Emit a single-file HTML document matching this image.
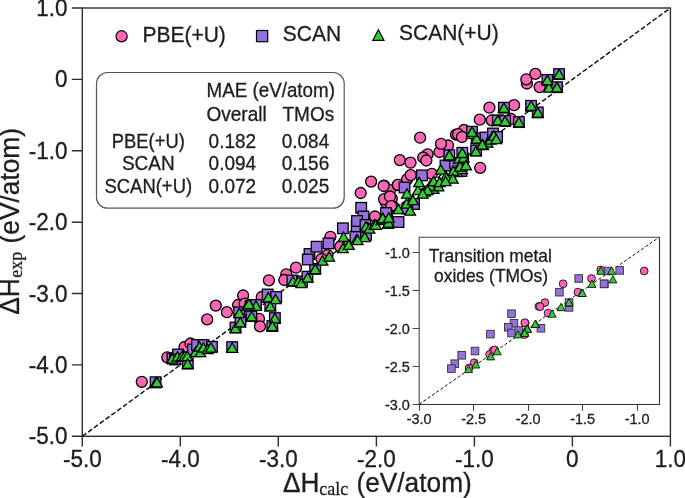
<!DOCTYPE html><html><head><meta charset="utf-8"><style>html,body{margin:0;padding:0;background:#fff;}svg{display:block;will-change:transform;}text{font-family:"Liberation Sans",sans-serif;fill:#1e1e1e;stroke:#1e1e1e;stroke-width:0.3px;}</style></head><body>
<svg width="685" height="498" viewBox="0 0 685 498">
<rect x="82.3" y="8.0" width="588.1" height="428.3" fill="none" stroke="#2e2e2e" stroke-width="1.4"/>
<path d="M82.3 436.3V446.6M82.3 436.3H71.8M180.3 436.3V446.6M82.3 364.9H71.8M278.3 436.3V446.6M82.3 293.5H71.8M376.4 436.3V446.6M82.3 222.2H71.8M474.4 436.3V446.6M82.3 150.8H71.8M572.4 436.3V446.6M82.3 79.4H71.8M670.4 436.3V446.6M82.3 8.0H71.8" stroke="#2e2e2e" stroke-width="1.4" fill="none"/>
<line x1="82.3" y1="436.3" x2="670.4" y2="8.0" stroke="#111" stroke-width="1.45" stroke-dasharray="4.9,2.3"/>
<text transform="translate(82.30,467.00) scale(1,1.08)" font-size="22.5" text-anchor="middle">-5.0</text>
<text transform="translate(67.50,444.40) scale(1,1.08)" font-size="22.5" text-anchor="end">-5.0</text>
<text transform="translate(180.32,467.00) scale(1,1.08)" font-size="22.5" text-anchor="middle">-4.0</text>
<text transform="translate(67.50,373.02) scale(1,1.08)" font-size="22.5" text-anchor="end">-4.0</text>
<text transform="translate(278.33,467.00) scale(1,1.08)" font-size="22.5" text-anchor="middle">-3.0</text>
<text transform="translate(67.50,301.63) scale(1,1.08)" font-size="22.5" text-anchor="end">-3.0</text>
<text transform="translate(376.35,467.00) scale(1,1.08)" font-size="22.5" text-anchor="middle">-2.0</text>
<text transform="translate(67.50,230.25) scale(1,1.08)" font-size="22.5" text-anchor="end">-2.0</text>
<text transform="translate(474.37,467.00) scale(1,1.08)" font-size="22.5" text-anchor="middle">-1.0</text>
<text transform="translate(67.50,158.87) scale(1,1.08)" font-size="22.5" text-anchor="end">-1.0</text>
<text transform="translate(572.38,467.00) scale(1,1.08)" font-size="22.5" text-anchor="middle">0</text>
<text transform="translate(67.50,87.48) scale(1,1.08)" font-size="22.5" text-anchor="end">0</text>
<text transform="translate(670.40,467.00) scale(1,1.08)" font-size="22.5" text-anchor="middle">1.0</text>
<text transform="translate(67.50,16.10) scale(1,1.08)" font-size="22.5" text-anchor="end">1.0</text>
<text transform="translate(283.00,492.40) scale(1,1.03)" font-size="26.3">ΔH</text><text transform="translate(319.20,495.40) scale(1,1.0)" font-size="18" style="font-family:&quot;Liberation Serif&quot;,serif">calc</text><text transform="translate(356.40,492.40) scale(1,1.03)" font-size="26.3">(eV/atom)</text>
<g transform="translate(19.3,314.8) rotate(-90)"><text transform="translate(0.00,0.00) scale(1,1.03)" font-size="26.3">ΔH</text><text transform="translate(37.10,3.00) scale(1,1.0)" font-size="18" style="font-family:&quot;Liberation Serif&quot;,serif">exp</text><text transform="translate(71.40,0.00) scale(1,1.03)" font-size="26.3">(eV/atom)</text></g>
<g fill="#fa66b4" stroke="#000" stroke-width="1.3"><circle cx="141.8" cy="381.8" r="5.5"/><circle cx="167.3" cy="357.3" r="5.5"/><circle cx="176.0" cy="356.3" r="5.5"/><circle cx="184.5" cy="347.0" r="5.5"/><circle cx="190.5" cy="343.5" r="5.5"/><circle cx="207.2" cy="319.4" r="5.5"/><circle cx="215.8" cy="305.6" r="5.5"/><circle cx="226.9" cy="312.2" r="5.5"/><circle cx="243.1" cy="295.5" r="5.5"/><circle cx="238.1" cy="305.0" r="5.5"/><circle cx="244.7" cy="303.7" r="5.5"/><circle cx="259.0" cy="318.8" r="5.5"/><circle cx="260.0" cy="326.4" r="5.5"/><circle cx="261.8" cy="297.0" r="5.5"/><circle cx="268.9" cy="280.3" r="5.5"/><circle cx="286.3" cy="274.3" r="5.5"/><circle cx="284.3" cy="280.0" r="5.5"/><circle cx="296.0" cy="267.7" r="5.5"/><circle cx="327.5" cy="255.0" r="5.5"/><circle cx="321.5" cy="259.0" r="5.5"/><circle cx="330.4" cy="236.8" r="5.5"/><circle cx="340.3" cy="246.7" r="5.5"/><circle cx="360.7" cy="193.0" r="5.5"/><circle cx="371.1" cy="181.6" r="5.5"/><circle cx="375.0" cy="216.5" r="5.5"/><circle cx="384.1" cy="185.6" r="5.5"/><circle cx="385.7" cy="202.2" r="5.5"/><circle cx="391.8" cy="198.6" r="5.5"/><circle cx="393.4" cy="206.8" r="5.5"/><circle cx="390.2" cy="190.1" r="5.5"/><circle cx="397.7" cy="185.1" r="5.5"/><circle cx="384.1" cy="199.2" r="5.5"/><circle cx="390.0" cy="196.5" r="5.5"/><circle cx="391.2" cy="206.1" r="5.5"/><circle cx="383.6" cy="186.0" r="5.5"/><circle cx="399.8" cy="160.1" r="5.5"/><circle cx="410.5" cy="162.7" r="5.5"/><circle cx="427.6" cy="154.3" r="5.5"/><circle cx="423.2" cy="157.5" r="5.5"/><circle cx="426.3" cy="160.5" r="5.5"/><circle cx="439.5" cy="152.0" r="5.5"/><circle cx="448.0" cy="145.5" r="5.5"/><circle cx="441.0" cy="143.8" r="5.5"/><circle cx="420.1" cy="137.7" r="5.5"/><circle cx="398.0" cy="184.8" r="5.5"/><circle cx="407.1" cy="179.3" r="5.5"/><circle cx="410.7" cy="175.1" r="5.5"/><circle cx="431.8" cy="173.9" r="5.5"/><circle cx="464.0" cy="130.0" r="5.5"/><circle cx="456.0" cy="134.6" r="5.5"/><circle cx="458.1" cy="134.2" r="5.5"/><circle cx="462.0" cy="137.0" r="5.5"/><circle cx="480.2" cy="167.8" r="5.5"/><circle cx="479.8" cy="119.7" r="5.5"/><circle cx="489.4" cy="107.7" r="5.5"/><circle cx="491.8" cy="120.3" r="5.5"/><circle cx="511.0" cy="119.0" r="5.5"/><circle cx="514.1" cy="105.2" r="5.5"/><circle cx="526.9" cy="83.5" r="5.5"/><circle cx="526.3" cy="79.3" r="5.5"/><circle cx="535.4" cy="73.9" r="5.5"/><circle cx="539.6" cy="87.1" r="5.5"/></g>
<g fill="#9471dc" stroke="#000" stroke-width="1.3"><rect x="150.3" y="376.9" width="10.6" height="10.6"/><rect x="167.2" y="353.2" width="10.6" height="10.6"/><rect x="172.7" y="349.2" width="10.6" height="10.6"/><rect x="169.7" y="354.2" width="10.6" height="10.6"/><rect x="182.5" y="358.2" width="10.6" height="10.6"/><rect x="187.7" y="344.2" width="10.6" height="10.6"/><rect x="191.7" y="339.7" width="10.6" height="10.6"/><rect x="198.2" y="339.7" width="10.6" height="10.6"/><rect x="206.7" y="341.5" width="10.6" height="10.6"/><rect x="226.9" y="341.8" width="10.6" height="10.6"/><rect x="230.2" y="322.2" width="10.6" height="10.6"/><rect x="233.9" y="307.0" width="10.6" height="10.6"/><rect x="235.2" y="314.7" width="10.6" height="10.6"/><rect x="245.3" y="300.5" width="10.6" height="10.6"/><rect x="246.1" y="310.5" width="10.6" height="10.6"/><rect x="250.7" y="299.7" width="10.6" height="10.6"/><rect x="262.4" y="289.2" width="10.6" height="10.6"/><rect x="270.9" y="291.7" width="10.6" height="10.6"/><rect x="265.0" y="299.7" width="10.6" height="10.6"/><rect x="269.6" y="312.8" width="10.6" height="10.6"/><rect x="267.0" y="320.7" width="10.6" height="10.6"/><rect x="287.1" y="275.2" width="10.6" height="10.6"/><rect x="296.7" y="276.2" width="10.6" height="10.6"/><rect x="302.1" y="271.4" width="10.6" height="10.6"/><rect x="309.9" y="263.6" width="10.6" height="10.6"/><rect x="304.2" y="248.7" width="10.6" height="10.6"/><rect x="302.5" y="254.2" width="10.6" height="10.6"/><rect x="311.3" y="241.4" width="10.6" height="10.6"/><rect x="323.2" y="238.1" width="10.6" height="10.6"/><rect x="337.6" y="223.0" width="10.6" height="10.6"/><rect x="350.1" y="231.5" width="10.6" height="10.6"/><rect x="351.4" y="221.0" width="10.6" height="10.6"/><rect x="355.9" y="202.5" width="10.6" height="10.6"/><rect x="358.2" y="211.2" width="10.6" height="10.6"/><rect x="351.7" y="215.7" width="10.6" height="10.6"/><rect x="360.2" y="219.7" width="10.6" height="10.6"/><rect x="360.7" y="229.7" width="10.6" height="10.6"/><rect x="381.9" y="210.1" width="10.6" height="10.6"/><rect x="380.7" y="207.7" width="10.6" height="10.6"/><rect x="408.7" y="198.7" width="10.6" height="10.6"/><rect x="402.0" y="203.2" width="10.6" height="10.6"/><rect x="393.2" y="216.7" width="10.6" height="10.6"/><rect x="399.2" y="182.2" width="10.6" height="10.6"/><rect x="416.6" y="170.1" width="10.6" height="10.6"/><rect x="440.2" y="160.2" width="10.6" height="10.6"/><rect x="449.7" y="157.7" width="10.6" height="10.6"/><rect x="457.7" y="153.2" width="10.6" height="10.6"/><rect x="444.0" y="149.9" width="10.6" height="10.6"/><rect x="456.1" y="165.7" width="10.6" height="10.6"/><rect x="457.0" y="147.5" width="10.6" height="10.6"/><rect x="466.7" y="126.4" width="10.6" height="10.6"/><rect x="471.4" y="133.1" width="10.6" height="10.6"/><rect x="480.2" y="132.2" width="10.6" height="10.6"/><rect x="487.7" y="128.2" width="10.6" height="10.6"/><rect x="491.7" y="131.7" width="10.6" height="10.6"/><rect x="470.8" y="145.1" width="10.6" height="10.6"/><rect x="492.5" y="115.0" width="10.6" height="10.6"/><rect x="499.8" y="115.6" width="10.6" height="10.6"/><rect x="513.6" y="116.8" width="10.6" height="10.6"/><rect x="498.6" y="102.4" width="10.6" height="10.6"/><rect x="525.8" y="100.5" width="10.6" height="10.6"/><rect x="532.5" y="107.1" width="10.6" height="10.6"/><rect x="542.1" y="74.6" width="10.6" height="10.6"/><rect x="553.8" y="68.8" width="10.6" height="10.6"/><rect x="551.7" y="81.9" width="10.6" height="10.6"/></g>
<g fill="#34cc34" stroke="#000" stroke-width="1.3" stroke-linejoin="miter"><path d="M155.6 378.2L161.0 387.7L150.2 387.7Z"/><path d="M157.0 377.4L162.4 386.9L151.6 386.9Z"/><path d="M172.2 353.7L177.6 363.2L166.8 363.2Z"/><path d="M177.5 351.7L182.9 361.2L172.1 361.2Z"/><path d="M182.0 351.2L187.4 360.7L176.6 360.7Z"/><path d="M184.5 351.2L189.9 360.7L179.1 360.7Z"/><path d="M187.3 351.2L192.7 360.7L181.9 360.7Z"/><path d="M187.6 359.0L193.0 368.5L182.2 368.5Z"/><path d="M195.5 347.2L200.9 356.7L190.1 356.7Z"/><path d="M199.5 341.7L204.9 351.2L194.1 351.2Z"/><path d="M200.3 347.2L205.7 356.7L194.9 356.7Z"/><path d="M203.5 342.7L208.9 352.2L198.1 352.2Z"/><path d="M207.8 344.2L213.2 353.7L202.4 353.7Z"/><path d="M211.0 342.7L216.4 352.2L205.6 352.2Z"/><path d="M232.2 342.8L237.6 352.3L226.8 352.3Z"/><path d="M235.5 323.2L240.9 332.7L230.1 332.7Z"/><path d="M239.3 308.2L244.7 317.7L233.9 317.7Z"/><path d="M240.3 317.5L245.7 327.0L234.9 327.0Z"/><path d="M250.8 301.7L256.2 311.2L245.4 311.2Z"/><path d="M251.7 311.5L257.1 321.0L246.3 321.0Z"/><path d="M256.0 300.8L261.4 310.3L250.6 310.3Z"/><path d="M268.3 292.5L273.7 302.0L262.9 302.0Z"/><path d="M275.5 294.2L280.9 303.7L270.1 303.7Z"/><path d="M270.3 301.5L275.7 311.0L264.9 311.0Z"/><path d="M247.0 300.7L252.4 310.2L241.6 310.2Z"/><path d="M249.0 299.2L254.4 308.7L243.6 308.7Z"/><path d="M274.9 313.3L280.3 322.8L269.5 322.8Z"/><path d="M272.3 321.2L277.7 330.7L266.9 330.7Z"/><path d="M292.9 276.5L298.3 286.0L287.5 286.0Z"/><path d="M298.5 276.5L303.9 286.0L293.1 286.0Z"/><path d="M301.3 278.2L306.7 287.7L295.9 287.7Z"/><path d="M307.6 272.7L313.0 282.2L302.2 282.2Z"/><path d="M315.2 264.1L320.6 273.6L309.8 273.6Z"/><path d="M322.5 255.7L327.9 265.2L317.1 265.2Z"/><path d="M329.1 251.7L334.5 261.2L323.7 261.2Z"/><path d="M343.6 232.0L349.0 241.5L338.2 241.5Z"/><path d="M342.9 243.2L348.3 252.7L337.5 252.7Z"/><path d="M348.8 239.9L354.2 249.4L343.4 249.4Z"/><path d="M356.7 234.7L362.1 244.2L351.3 244.2Z"/><path d="M364.7 232.1L370.1 241.6L359.3 241.6Z"/><path d="M357.6 235.2L363.0 244.7L352.2 244.7Z"/><path d="M367.8 222.9L373.2 232.4L362.4 232.4Z"/><path d="M366.0 221.7L371.4 231.2L360.6 231.2Z"/><path d="M369.5 223.7L374.9 233.2L364.1 233.2Z"/><path d="M374.4 219.6L379.8 229.1L369.0 229.1Z"/><path d="M376.0 219.8L381.4 229.3L370.6 229.3Z"/><path d="M381.4 215.2L386.8 224.7L376.0 224.7Z"/><path d="M382.5 213.2L387.9 222.7L377.1 222.7Z"/><path d="M383.1 213.7L388.5 223.2L377.7 223.2Z"/><path d="M388.2 218.8L393.6 228.3L382.8 228.3Z"/><path d="M417.9 185.2L423.3 194.7L412.5 194.7Z"/><path d="M425.0 186.7L430.4 196.2L419.6 196.2Z"/><path d="M433.6 183.8L439.0 193.3L428.2 193.3Z"/><path d="M438.4 181.3L443.8 190.8L433.0 190.8Z"/><path d="M430.0 180.7L435.4 190.2L424.6 190.2Z"/><path d="M446.0 171.2L451.4 180.7L440.6 180.7Z"/><path d="M457.0 167.2L462.4 176.7L451.6 176.7Z"/><path d="M462.0 164.2L467.4 173.7L456.6 173.7Z"/><path d="M449.2 151.2L454.6 160.7L443.8 160.7Z"/><path d="M458.9 153.7L464.3 163.2L453.5 163.2Z"/><path d="M463.7 152.7L469.1 162.2L458.3 162.2Z"/><path d="M440.8 164.7L446.2 174.2L435.4 174.2Z"/><path d="M453.4 165.9L458.8 175.4L448.0 175.4Z"/><path d="M460.0 161.6L465.4 171.1L454.6 171.1Z"/><path d="M466.0 160.4L471.4 169.9L460.6 169.9Z"/><path d="M419.1 177.2L424.5 186.7L413.7 186.7Z"/><path d="M433.6 176.2L439.0 185.7L428.2 185.7Z"/><path d="M452.8 173.7L458.2 183.2L447.4 183.2Z"/><path d="M427.5 185.2L432.9 194.7L422.1 194.7Z"/><path d="M439.6 177.2L445.0 186.7L434.2 186.7Z"/><path d="M445.6 176.2L451.0 185.7L440.2 185.7Z"/><path d="M422.7 188.7L428.1 198.2L417.3 198.2Z"/><path d="M407.0 188.7L412.4 198.2L401.6 198.2Z"/><path d="M449.3 150.4L454.7 159.9L443.9 159.9Z"/><path d="M462.3 148.0L467.7 157.5L456.9 157.5Z"/><path d="M398.5 204.2L403.9 213.7L393.1 213.7Z"/><path d="M406.5 198.7L411.9 208.2L401.1 208.2Z"/><path d="M413.0 195.2L418.4 204.7L407.6 204.7Z"/><path d="M410.1 205.7L415.5 215.2L404.7 215.2Z"/><path d="M388.4 217.7L393.8 227.2L383.0 227.2Z"/><path d="M382.8 213.2L388.2 222.7L377.4 222.7Z"/><path d="M388.8 212.7L394.2 222.2L383.4 222.2Z"/><path d="M471.7 128.8L477.1 138.3L466.3 138.3Z"/><path d="M476.5 133.6L481.9 143.1L471.1 143.1Z"/><path d="M475.9 146.3L481.3 155.8L470.5 155.8Z"/><path d="M472.0 126.9L477.4 136.4L466.6 136.4Z"/><path d="M487.5 137.7L492.9 147.2L482.1 147.2Z"/><path d="M490.5 134.7L495.9 144.2L485.1 144.2Z"/><path d="M493.8 130.7L499.2 140.2L488.4 140.2Z"/><path d="M496.2 134.2L501.6 143.7L490.8 143.7Z"/><path d="M483.2 140.2L488.6 149.7L477.8 149.7Z"/><path d="M482.2 139.6L487.6 149.1L476.8 149.1Z"/><path d="M497.8 115.5L503.2 125.0L492.4 125.0Z"/><path d="M505.1 116.1L510.5 125.6L499.7 125.6Z"/><path d="M518.9 117.3L524.3 126.8L513.5 126.8Z"/><path d="M503.9 102.9L509.3 112.4L498.5 112.4Z"/><path d="M531.1 101.0L536.5 110.5L525.7 110.5Z"/><path d="M537.8 107.6L543.2 117.1L532.4 117.1Z"/><path d="M549.0 82.7L554.4 92.2L543.6 92.2Z"/><path d="M547.4 75.1L552.8 84.6L542.0 84.6Z"/><path d="M559.1 69.3L564.5 78.8L553.7 78.8Z"/><path d="M557.0 82.4L562.4 91.9L551.6 91.9Z"/></g>
<circle cx="121.6" cy="36.3" r="5.6" fill="#fa66b4" stroke="#000" stroke-width="1.2"/>
<rect x="256.5" y="30.5" width="11.2" height="11.2" fill="#9471dc" stroke="#000" stroke-width="1.2"/>
<path d="M378.4 29.8L384 40.3L372.8 40.3Z" fill="#34cc34" stroke="#000" stroke-width="1.2"/>
<text transform="translate(142.40,41.80) scale(1,1.05)" font-size="21">PBE(+U)</text>
<text transform="translate(282.80,41.40) scale(1,1.05)" font-size="21">SCAN</text>
<text transform="translate(399.00,39.90) scale(1,1.05)" font-size="21">SCAN(+U)</text>
<rect x="96.5" y="72.5" width="247.7" height="135.7" rx="11" ry="11" fill="#fff" stroke="#555" stroke-width="1.2"/>
<text transform="translate(206.60,96.90) scale(1,1.055)" font-size="19" textLength="128.3" lengthAdjust="spacingAndGlyphs">MAE (eV/atom)</text>
<text transform="translate(206.50,121.40) scale(1,1.055)" font-size="19">Overall</text>
<text transform="translate(282.50,121.40) scale(1,1.055)" font-size="19">TMOs</text>
<text transform="translate(148.30,148.00) scale(1,1.055)" font-size="19" text-anchor="middle" textLength="72.9" lengthAdjust="spacingAndGlyphs">PBE(+U)</text>
<text transform="translate(208.60,148.00) scale(1,1.055)" font-size="19">0.182</text>
<text transform="translate(281.70,148.00) scale(1,1.055)" font-size="19">0.084</text>
<text transform="translate(148.30,170.40) scale(1,1.055)" font-size="19" text-anchor="middle">SCAN</text>
<text transform="translate(208.60,170.40) scale(1,1.055)" font-size="19">0.094</text>
<text transform="translate(281.70,170.40) scale(1,1.055)" font-size="19">0.156</text>
<text transform="translate(148.30,192.80) scale(1,1.055)" font-size="19" text-anchor="middle" textLength="87.6" lengthAdjust="spacingAndGlyphs">SCAN(+U)</text>
<text transform="translate(208.60,192.80) scale(1,1.055)" font-size="19">0.072</text>
<text transform="translate(281.70,192.80) scale(1,1.055)" font-size="19">0.025</text>
<rect x="419.5" y="237.5" width="240" height="167" fill="#fff"/>
<path d="M419.2 404.5V237.2H659.5" fill="none" stroke="#444" stroke-width="1.1"/>
<path d="M659.5 237.2V404.5H419.2" fill="none" stroke="#333" stroke-width="1.1"/>
<path d="M419.5 404.5V410.8M419.5 404.5H412.59999999999997M473.5 404.5V410.8M419.5 366.5H412.59999999999997M528.5 404.5V410.8M419.5 328.5H412.59999999999997M582.5 404.5V410.8M419.5 290.5H412.59999999999997M637.5 404.5V410.8M419.5 252.5H412.59999999999997" stroke="#444" stroke-width="1.1" fill="none"/>
<line x1="419.2" y1="404.3" x2="659.0" y2="237.4" stroke="#111" stroke-width="1" stroke-dasharray="3.2,2"/>
<text transform="translate(419.20,423.60) scale(1,1.03)" font-size="14.5" text-anchor="middle">-3.0</text>
<text transform="translate(409.90,409.60) scale(1,1.03)" font-size="14.5" text-anchor="end">-3.0</text>
<text transform="translate(473.70,423.60) scale(1,1.03)" font-size="14.5" text-anchor="middle">-2.5</text>
<text transform="translate(409.90,371.67) scale(1,1.03)" font-size="14.5" text-anchor="end">-2.5</text>
<text transform="translate(528.20,423.60) scale(1,1.03)" font-size="14.5" text-anchor="middle">-2.0</text>
<text transform="translate(409.90,333.74) scale(1,1.03)" font-size="14.5" text-anchor="end">-2.0</text>
<text transform="translate(582.70,423.60) scale(1,1.03)" font-size="14.5" text-anchor="middle">-1.5</text>
<text transform="translate(409.90,295.80) scale(1,1.03)" font-size="14.5" text-anchor="end">-1.5</text>
<text transform="translate(637.20,423.60) scale(1,1.03)" font-size="14.5" text-anchor="middle">-1.0</text>
<text transform="translate(409.90,257.87) scale(1,1.03)" font-size="14.5" text-anchor="end">-1.0</text>
<text transform="translate(490.35,261.70) scale(1,1.035)" font-size="17.4" text-anchor="middle">Transition metal</text>
<text transform="translate(491.00,281.50) scale(1,1.035)" font-size="17.4" text-anchor="middle">oxides (TMOs)</text>
<g fill="#fa66b4" stroke="#111" stroke-width="0.9"><circle cx="525.2" cy="323.3" r="3.9"/><circle cx="538.9" cy="306.4" r="3.9"/><circle cx="493.0" cy="350.6" r="3.9"/><circle cx="489.6" cy="354.5" r="3.9"/><circle cx="494.7" cy="349.9" r="3.9"/><circle cx="474.2" cy="362.7" r="3.9"/><circle cx="469.1" cy="368.0" r="3.9"/><circle cx="524.4" cy="334.6" r="3.9"/><circle cx="563.1" cy="283.8" r="3.9"/><circle cx="544.9" cy="302.6" r="3.9"/><circle cx="540.1" cy="306.6" r="3.9"/><circle cx="548.1" cy="313.1" r="3.9"/><circle cx="577.9" cy="292.2" r="3.9"/><circle cx="591.5" cy="278.5" r="3.9"/><circle cx="600.8" cy="269.9" r="3.9"/><circle cx="644.2" cy="271.0" r="3.9"/><circle cx="524.8" cy="322.7" r="3.9"/></g>
<g fill="#9471dc" stroke="#333" stroke-width="0.9"><rect x="507.7" y="309.9" width="7.6" height="7.6"/><rect x="510.2" y="319.5" width="7.6" height="7.6"/><rect x="504.5" y="323.5" width="7.6" height="7.6"/><rect x="507.7" y="329.2" width="7.6" height="7.6"/><rect x="515.0" y="326.7" width="7.6" height="7.6"/><rect x="486.6" y="330.3" width="7.6" height="7.6"/><rect x="471.2" y="347.2" width="7.6" height="7.6"/><rect x="457.9" y="351.5" width="7.6" height="7.6"/><rect x="451.0" y="359.9" width="7.6" height="7.6"/><rect x="447.6" y="364.8" width="7.6" height="7.6"/><rect x="537.1" y="324.5" width="7.6" height="7.6"/><rect x="555.6" y="288.4" width="7.6" height="7.6"/><rect x="565.2" y="303.6" width="7.6" height="7.6"/><rect x="565.2" y="298.8" width="7.6" height="7.6"/><rect x="574.9" y="274.7" width="7.6" height="7.6"/><rect x="600.6" y="280.0" width="7.6" height="7.6"/><rect x="604.2" y="267.2" width="7.6" height="7.6"/><rect x="615.9" y="266.6" width="7.6" height="7.6"/><rect x="600.2" y="280.1" width="7.6" height="7.6"/></g>
<g fill="#34cc34" stroke="#111" stroke-width="0.9"><path d="M497.2 347.4L501.2 354.8L493.2 354.8Z"/><path d="M490.6 352.5L494.6 359.9L486.6 359.9Z"/><path d="M475.8 360.6L479.8 368.0L471.8 368.0Z"/><path d="M468.6 365.2L472.6 372.6L464.6 372.6Z"/><path d="M518.0 330.5L522.0 337.9L514.0 337.9Z"/><path d="M524.4 328.1L528.4 335.5L520.4 335.5Z"/><path d="M527.6 324.8L531.6 332.2L523.6 332.2Z"/><path d="M535.7 320.0L539.7 327.4L531.7 327.4Z"/><path d="M552.2 309.8L556.2 317.2L548.2 317.2Z"/><path d="M561.0 303.3L565.0 310.7L557.0 310.7Z"/><path d="M569.0 298.5L573.0 305.9L565.0 305.9Z"/><path d="M581.9 288.9L585.9 296.3L577.9 296.3Z"/><path d="M592.0 280.0L596.0 287.4L588.0 287.4Z"/><path d="M612.9 275.5L616.9 282.9L608.9 282.9Z"/><path d="M600.8 266.9L604.8 274.3L596.8 274.3Z"/><path d="M611.5 266.9L615.5 274.3L607.5 274.3Z"/><path d="M535.3 320.2L539.3 327.6L531.3 327.6Z"/><path d="M527.2 325.0L531.2 332.4L523.2 332.4Z"/><path d="M524.8 329.1L528.8 336.5L520.8 336.5Z"/><path d="M582.3 289.1L586.3 296.5L578.3 296.5Z"/></g>
</svg></body></html>
